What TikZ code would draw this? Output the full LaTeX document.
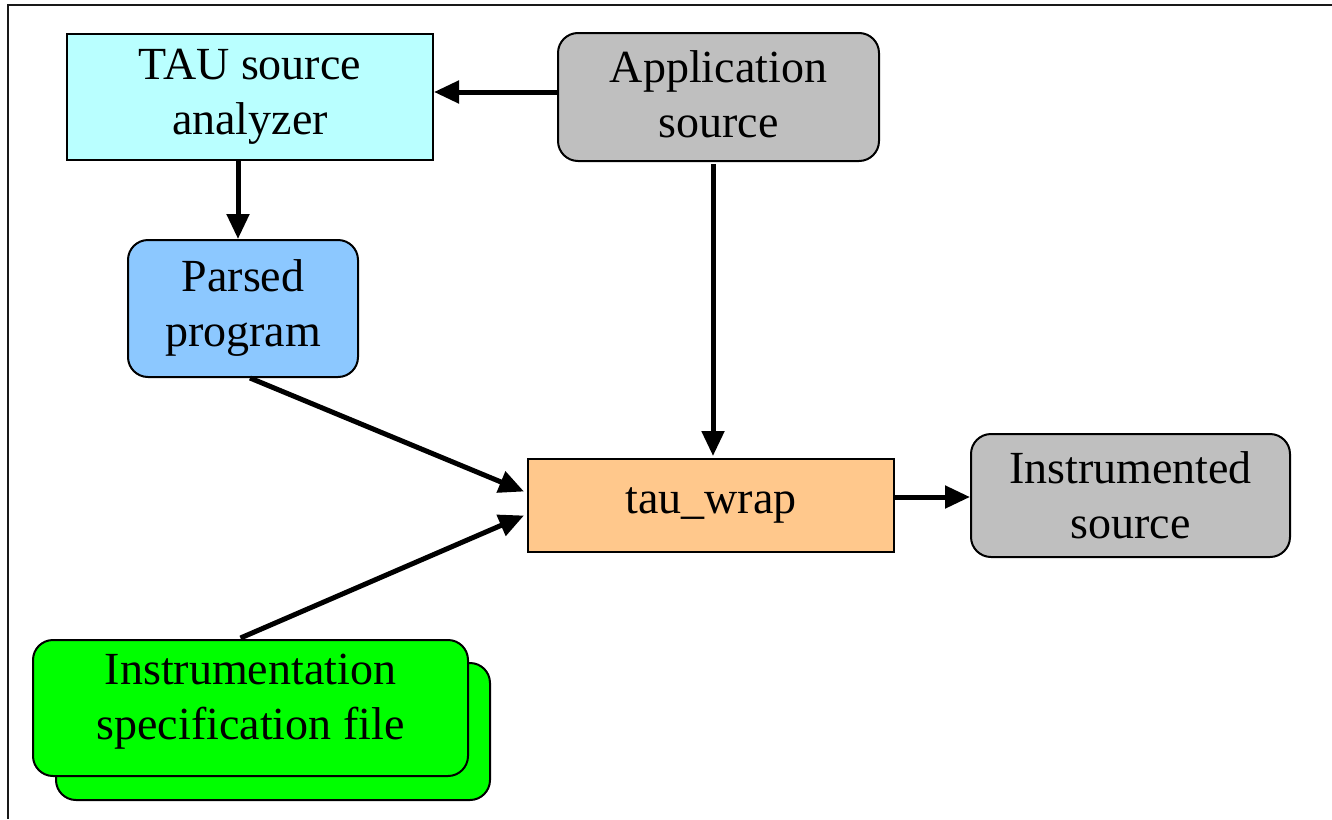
\documentclass[tikz,border=0pt]{standalone}
\usepackage{fontspec}
\setmainfont{Liberation Serif}
\usetikzlibrary{arrows.meta,calc}
\definecolor{cyanbox}{HTML}{B9FFFF}
\definecolor{graybox}{HTML}{BFBFBF}
\definecolor{bluebox}{HTML}{8CC8FF}
\definecolor{orangebox}{HTML}{FFC88C}
\definecolor{greenbox}{HTML}{00FF00}
\tikzset{
  txt/.style={align=center, inner sep=0pt, font=\fontsize{23}{27.5}\selectfont},
  box/.style={txt, draw=black, line width=1pt},
  rbox/.style={box, rounded corners=10pt},
  conn/.style={line width=2.5pt, -{Triangle[length=12.5pt,width=11pt]}},
  frameline/.style={line width=1.2pt, draw=black!90}
}
\begin{document}
\begin{tikzpicture}[x=0.5pt,y=-0.5pt]
\useasboundingbox (0,0) rectangle (1332,819);
\coordinate (ftr) at (1332,5);
\coordinate (ftl) at (8,5);
\coordinate (fbl) at (8,819);
\draw[frameline] (ftr) -- (ftl) -- (fbl);

\node[box, fill=cyanbox, minimum width=183pt, minimum height=63pt] (tau) at (250,97) {TAU source\\analyzer};
\node[rbox, fill=graybox, minimum width=160.5pt, minimum height=64pt] (app) at (718.5,97) {};
\node[txt] (apptext) at (718.5,94) {Application\\source};
\node[rbox, fill=bluebox, minimum width=115pt, minimum height=68.5pt] (pp) at (243,308.5) {Parsed\\program};
\node[box, fill=orangebox, minimum width=183pt, minimum height=46.5pt] (tw) at (711,505.5) {tau\_wrap};
\node[rbox, fill=graybox, minimum width=159.5pt, minimum height=61.5pt] (ins) at (1130.5,495.5) {Instrumented\\source};
\node[rbox, fill=greenbox, minimum width=217pt, minimum height=68.5pt] (sfback) at (273,731.5) {};
\node[rbox, fill=greenbox, minimum width=217.5pt, minimum height=68pt] (sf) at (250.5,708) {};
\node[txt] (sftext) at (250.5,702) {Instrumentation\\specification file};

\draw[conn] ($(app.west)+(0,-5)$) -- ($(tau.east)+(0,-5)$);
\draw[conn] ($(tau.south)+(-12,0)$) -- ($(pp.north)+(-5,0)$);
\draw[conn] ($(app.south)+(-5.5,2)$) -- ($(tw.north)+(2,-2)$);
\draw[conn] ($(pp.south)+(7,0)$) -- ($(tw.west)+(-3,-14)$);
\draw[conn] ($(sf.north)+(-10,-1)$) -- ($(tw.west)+(-3,10)$);
\draw[conn] ($(tw.east)+(0,-8.5)$) -- ($(ins.west)+(0,1.5)$);
\end{tikzpicture}
\end{document}
